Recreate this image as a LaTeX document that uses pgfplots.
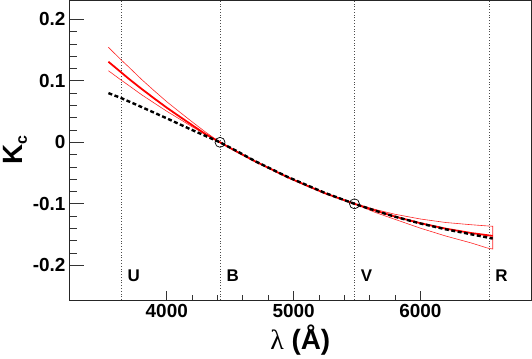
\documentclass[border=0pt]{standalone}
\usepackage{fontspec}
\setmainfont{Liberation Sans}
\newfontfamily\greekfont{Liberation Serif}
\usepackage{pgfplots}
\pgfplotsset{compat=1.18}

\begin{document}
\begin{tikzpicture}
\begin{axis}[
    scale only axis,
    width=461.5bp, height=299.5bp,
    xmin=3233, xmax=6872,
    ymin=-0.2564, ymax=0.2306,
    axis line style={line width=1pt, black!85},
    tick align=inside,
    xtick pos=bottom, ytick pos=left,
    xtick={4000,5000,6000},
    xticklabels={4000,5000,6000},
    ytick={-0.2,-0.1,0,0.1,0.2},
    yticklabels={-0.2,-0.1,0,0.1,0.2},
    minor y tick num=4,
    x tick style={draw=none},
    y tick style={black!80, line width=0.8pt},
    major tick length=14bp, minor tick length=7bp,
    tick label style={font=\fontsize{19}{19}\selectfont\bfseries},
    xticklabel style={yshift=-1bp},
    yticklabel style={xshift=-0.5bp},
    xlabel={{\greekfont λ} {\bfseries (Å)}},
    xlabel style={font=\fontsize{28}{28}\selectfont, at={(axis description cs:0.5,-0.1336)}, anchor=center},
    ylabel={\bfseries K\raisebox{-4bp}{\fontsize{16}{16}\selectfont c}},
    ylabel style={font=\fontsize{28}{28}\selectfont, at={(axis description cs:-0.1175,0.5)}, anchor=center},
    clip=true,
]
% band reference lines
\addplot[black!70, dotted, line width=0.8pt] coordinates {(3640,-0.2564) (3640,0.2306)};
\addplot[black!70, dotted, line width=0.8pt] coordinates {(4420,-0.2564) (4420,0.2306)};
\addplot[black!70, dotted, line width=0.8pt] coordinates {(5480,-0.2564) (5480,0.2306)};
\addplot[black!70, dotted, line width=0.8pt] coordinates {(6540,-0.2564) (6540,0.2306)};

% error envelope (upper, then lower back)
\addplot[red!85, line width=0.6bp] coordinates {
  (3540,0.1545) (3640,0.134) (3700,0.1225) (3800,0.1025) (3900,0.0840) (4000,0.066)
  (4100,0.0495) (4200,0.0333) (4300,0.0175) (4420,0)
  (4700,-0.0313) (4950,-0.0565) (5250,-0.0830) (5480,-0.1)
  (5650,-0.1095) (5800,-0.117) (6000,-0.1247) (6200,-0.1304) (6400,-0.1340) (6530,-0.136) (6570,-0.1365)
  (6570,-0.1735) (6530,-0.172) (6400,-0.1636) (6200,-0.1524) (6000,-0.1396) (5800,-0.1253) (5650,-0.1145)
  (5480,-0.1) (5250,-0.0830) (4950,-0.0565) (4700,-0.0313)
  (4420,0) (4300,0.0135) (4200,0.0253) (4100,0.0380) (4000,0.0505) (3900,0.0640) (3800,0.0776)
  (3700,0.0925) (3640,0.1012) (3540,0.1164)
};

% central curve
\addplot[red, line width=1.8bp] coordinates {
  (3540,0.131) (3640,0.1138) (3700,0.1034) (3800,0.0871) (3900,0.0715) (4000,0.0563)
  (4100,0.0420) (4200,0.0280) (4300,0.0140) (4420,0)
  (4550,-0.0150) (4700,-0.0313) (4950,-0.0565) (5100,-0.0700) (5250,-0.0830) (5480,-0.1)
  (5650,-0.1113) (5800,-0.1208) (6000,-0.1315) (6200,-0.1404) (6400,-0.1475) (6570,-0.1522)
};

% model curve
\addplot[black, line width=2.4bp, dash pattern=on 4bp off 2.5bp] coordinates {
  (3540,0.080) (3640,0.072) (3800,0.0575) (4000,0.0390) (4200,0.0200) (4420,0)
  (4550,-0.0140) (4700,-0.0310) (4950,-0.0560) (5250,-0.0825) (5480,-0.1)
  (5650,-0.1115) (5800,-0.1210) (6000,-0.1320) (6200,-0.1415) (6400,-0.1495) (6570,-0.1565)
};

% normalisation points
\addplot[only marks, mark=o, mark size=5bp, mark options={black, line width=0.7bp}] coordinates {(4420,0) (5480,-0.1)};

\node[anchor=west, font=\fontsize{17}{17}\selectfont\bfseries] at (axis cs:3640,-0.217) {\hspace{3bp}U};
\node[anchor=west, font=\fontsize{17}{17}\selectfont\bfseries] at (axis cs:4420,-0.217) {\hspace{3bp}B};
\node[anchor=west, font=\fontsize{17}{17}\selectfont\bfseries] at (axis cs:5480,-0.217) {\hspace{3bp}V};
\node[anchor=west, font=\fontsize{17}{17}\selectfont\bfseries] at (axis cs:6540,-0.217) {\hspace{3bp}R};
\end{axis}
% x ticks only, with their own (shorter) lengths
\begin{axis}[
    scale only axis,
    width=461.5bp, height=299.5bp,
    xmin=3233, xmax=6872,
    ymin=-0.2564, ymax=0.2306,
    axis line style={draw=none},
    tick align=inside,
    xtick pos=bottom,
    xtick={4000,5000,6000},
    xticklabels={},
    ytick=\empty,
    minor x tick num=4,
    x tick style={black!80, line width=0.8pt},
    major tick length=9bp, minor tick length=4.5bp,
]
\end{axis}
\pgfresetboundingbox
\path ([shift={(-69.5bp,-59bp)}]current axis.south west) rectangle ([shift={(1bp,0.5bp)}]current axis.north east);
\end{tikzpicture}
\end{document}
